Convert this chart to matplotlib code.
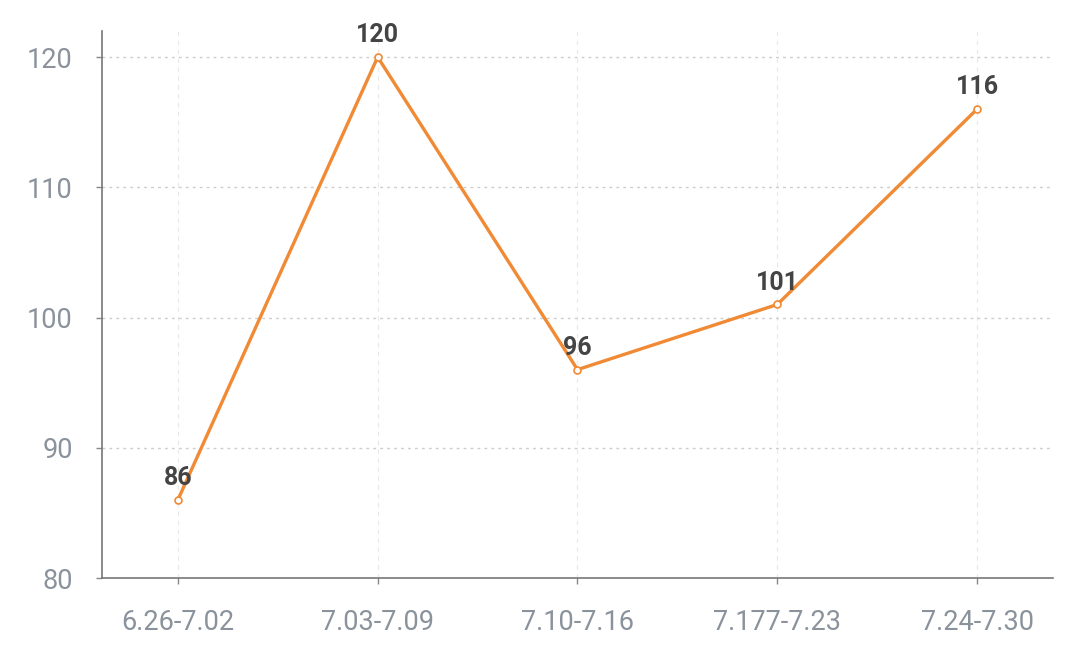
import matplotlib.pyplot as plt

weeks = ["6.26-7.02", "7.03-7.09", "7.10-7.16", "7.177-7.23", "7.24-7.30"]
values = [86, 120, 96, 101, 116]
y_ticks = [80, 90, 100, 110, 120]

plt.rcParams['font.family'] = ['Roboto', 'DejaVu Sans']

fig = plt.figure(figsize=(10.8, 6.69), dpi=100)
ax = fig.add_axes([0.0944, 0.136, 0.8806, 0.8177])

x = range(len(weeks))
ax.plot(x, values, color='#F08A35', linewidth=2.4, marker='o', markersize=5,
        markerfacecolor='white', markeredgecolor='#F08A35', markeredgewidth=1.2, zorder=3)

for i, v in enumerate(values):
    ax.annotate(str(v), (i, v), xytext=(0, 7), textcoords='offset points',
                ha='center', va='bottom', fontsize=18, fontweight='bold', color='#444444')

ax.set_xlim(-0.38, 4.38)
ax.set_ylim(80, 122)
ax.set_xticks(list(x))
ax.set_xticklabels(weeks)
ax.set_yticks(y_ticks)

ax.tick_params(axis='both', colors='#888888', labelcolor='#8a929c', labelsize=19.5, length=4, width=1)
ax.tick_params(axis='x', pad=18)
ax.tick_params(axis='y', pad=17)

for s in ['top', 'right']:
    ax.spines[s].set_visible(False)
for s in ['left', 'bottom']:
    ax.spines[s].set_color('#777777')
    ax.spines[s].set_linewidth(1.2)

ax.grid(axis='y', linestyle=(0, (2, 3)), color='#cccccc', linewidth=1)
ax.grid(axis='x', linestyle=(0, (4, 4)), color='#e8e8e8', linewidth=0.8)
ax.set_axisbelow(True)

fig.savefig('out.png', dpi=100)
